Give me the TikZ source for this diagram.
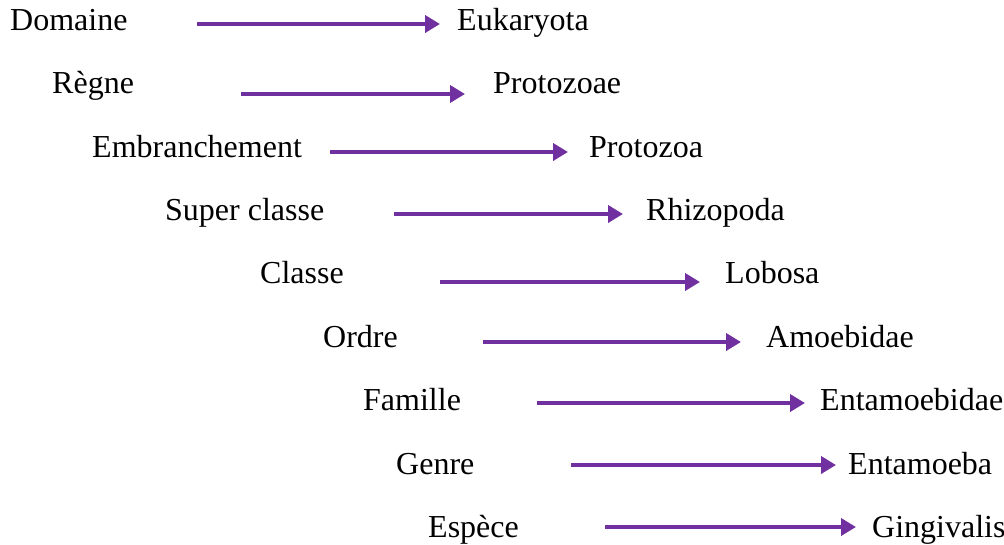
\documentclass[tikz,border=0pt]{standalone}
\usepackage{fontspec}
\setmainfont{Liberation Serif}
\usetikzlibrary{arrows.meta}
\definecolor{cpurple}{HTML}{7030A0}
\tikzset{
  every picture/.style={x=1pt, y=-1pt},
  rank/.style={anchor=base west, inner sep=0pt, font=\fontsize{32}{38}\selectfont},
  taxon/.style={anchor=base west, inner sep=0pt, font=\fontsize{32}{38}\selectfont},
  arrow/.style={-{Triangle[length=15pt, width=17pt]}, draw=cpurple, line width=4pt},
}

\begin{document}
\begin{tikzpicture}
  \useasboundingbox (0,0) rectangle (1004,544);
  % one row per level: rank on the left, arrow, taxon on the right
  \foreach \i/\lx/\base/\lab/\ax/\bx/\ay/\rx/\name in {
      1/10/30/Domaine/197/440/24/457/Eukaryota,
      2/52/93/Règne/241/465/94/493/Protozoae,
      3/92/157/Embranchement/330/568/152/589/Protozoa,
      4/165/220/Super classe/394/623/214/646/Rhizopoda,
      5/260/283/Classe/440/700/282/725/Lobosa,
      6/323/347/Ordre/483/741/342/766/Amoebidae,
      7/363/410/Famille/537/805/403/820/Entamoebidae,
      8/396/474/Genre/571/836/465/848/Entamoeba,
      9/428/537/Espèce/605/856/527/872/Gingivalis}{
    \node[rank] (r\i) at (\lx,\base) {\lab};
    \node[taxon] (t\i) at (\rx,\base) {\name};
    \coordinate (s\i) at (\ax,\ay);
    \coordinate (e\i) at (\bx,\ay);
    \draw[arrow] (s\i) -- (e\i);
  }
\end{tikzpicture}
\end{document}
